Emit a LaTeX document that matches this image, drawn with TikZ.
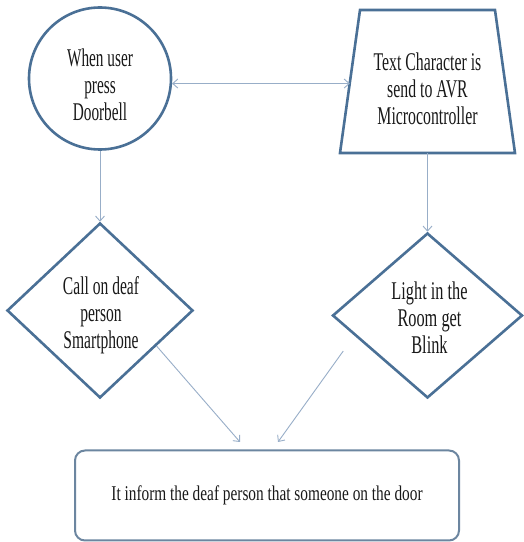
\documentclass[tikz,border=0pt]{standalone}
\usepackage{fontspec}
\setmainfont{Liberation Serif}
\newfontfamily\circfont[FakeStretch=0.60]{Liberation Serif}
\newfontfamily\trapfont[FakeStretch=0.62]{Liberation Serif}
\newfontfamily\ldfont[FakeStretch=0.61]{Liberation Serif}
\newfontfamily\rdfont[FakeStretch=0.64]{Liberation Serif}
\newfontfamily\infofont[FakeStretch=0.73]{Liberation Serif}
\usetikzlibrary{shapes.geometric,arrows.meta,calc}
\definecolor{shapeblue}{HTML}{4A7096}
\definecolor{arrowblue}{HTML}{98AEC8}
\definecolor{boxgray}{HTML}{6C86A0}
\begin{document}
\begin{tikzpicture}[x=1pt,y=1pt,
 shapebox/.style={draw=shapeblue, line width=2.6pt, fill=white, inner sep=0pt},
 txt/.style={align=center, inner sep=0pt, text=black!90},
 conn/.style={draw=arrowblue, line width=0.9pt, -{Straight Barb[length=5pt,width=9pt]}},
 dconn/.style={draw=arrowblue, line width=0.9pt, {Straight Barb[length=5pt,width=9pt]}-{Straight Barb[length=5pt,width=9pt]}},
]
\useasboundingbox (0,0) rectangle (524,542);
\fill[white] (0,0) rectangle (524,542);

\node[shapebox, circle, minimum size=142pt] (circ) at (100,463.5) {};
\node[txt, font=\circfont\fontsize{25.5}{27}\selectfont] (circt) at ($(circ.center)+(0,-6.5)$) {When user\\press\\Doorbell};

\node[inner sep=0pt, outer sep=0pt, minimum width=175pt, minimum height=143pt] (trap) at (427.5,460.5) {};
\coordinate (trapnw) at ($(trap.north west)+(20,0)$);
\coordinate (trapne) at ($(trap.north east)+(-20,0)$);
\draw[draw=shapeblue, line width=2.6pt, line join=miter, fill=white]
  (trap.south west) -- (trap.south east) -- (trapne) -- (trapnw) -- cycle;
\coordinate (trapl) at ($(trap.south west)!0.49!(trapnw)$);
\node[txt, font=\trapfont\fontsize{25.5}{27}\selectfont] (trapt) at ($(trap.center)+(0,-7)$) {Text Character is\\send to AVR\\Microcontroller};

\node[shapebox, diamond, minimum width=186pt, minimum height=175pt] (ld) at (100,231.5) {};
\node[txt, font=\ldfont\fontsize{25.5}{27}\selectfont] (ldt) at ($(ld.center)+(1,-5)$) {Call on deaf\\person\\Smartphone};

\node[shapebox, diamond, minimum width=190pt, minimum height=165pt] (rd) at (427.5,226.5) {};
\node[txt, font=\rdfont\fontsize{25.5}{27}\selectfont] (rdt) at ($(rd.center)+(2,-2)$) {Light in the\\Room get\\Blink};

\node[draw=boxgray, line width=2pt, rounded corners=10pt, fill=white,
  minimum width=384pt, minimum height=90pt,
  font=\infofont\fontsize{21}{24}\selectfont, text=black!90] (info) at (267,46.5)
  {It inform the deaf person that someone on the door};

\coordinate (la) at (240,100);
\coordinate (ra) at (278,100);

\draw[dconn] (circ.-4) -- (circ.-4 -| trapl);
\draw[conn] (circ.south) -- (ld.north);
\draw[conn] (trap.south) -- (rd.north);
\draw[conn] ($(ld.east)!0.4!(ld.south)$) -- (la);
\draw[conn, shorten <=19pt] ($(rd.west)!0.24!(rd.south)$) -- (ra);
\end{tikzpicture}
\end{document}
